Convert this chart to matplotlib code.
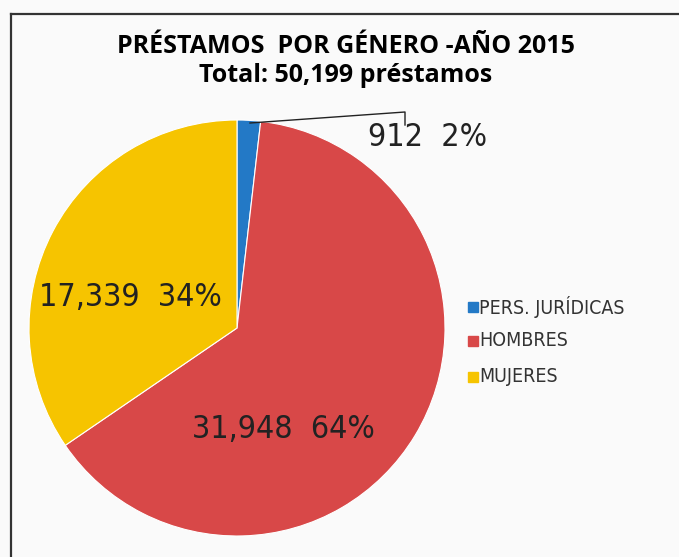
import matplotlib
matplotlib.use('Agg')
import matplotlib.pyplot as plt

####################################################################################################

categories = ['PERS. JURÍDICAS', 'HOMBRES', 'MUJERES']
loans = [912, 31948, 17339]
percent_labels = ['2%', '64%', '34%']
colors = ['#2379c6', '#d84848', '#f6c400']

title = 'PRÉSTAMOS  POR GÉNERO -AÑO 2015\nTotal: 50,199 préstamos'

####################################################################################################

W, H = 679, 557
fig = plt.figure(figsize=(W / 100, H / 100), dpi=100)
fig.patch.set_facecolor('#fafafa')

# frame (left and top edges show)
fig.add_artist(plt.Line2D([11 / W, 11 / W], [0, 1 - 14 / H], color='#333333', lw=1.6))
fig.add_artist(plt.Line2D([11 / W, 1], [1 - 14 / H, 1 - 14 / H], color='#333333', lw=1.6))

fig.text(346 / W, 1 - 61 / H, title, ha='center', va='center', fontsize=18,
         fontweight='bold', family=['Open Sans', 'DejaVu Sans'], linespacing=1.2)

# pie, circle centre (237, 328) radius 208 px
cx, cy, r = 237, 328, 208
ax = fig.add_axes([(cx - r) / W, 1 - (cy + r) / H, 2 * r / W, 2 * r / H])
ax.set_facecolor('none')
wedges, _ = ax.pie(loans, colors=colors, startangle=90, counterclock=False,
                   radius=1, wedgeprops=dict(edgecolor='white', linewidth=0.8))
ax.set_xlim(-1, 1)
ax.set_ylim(-1, 1)
ax.set_aspect('auto')
ax.axis('off')

lab_font = dict(family='DejaVu Sans', stretch='condensed', fontweight='light',
                fontsize=23, color='#222222')

def to_ax(px, py):
    return ((px - cx) / r, (cy - py) / r)

# small slice label with leader line
pts = [to_ax(250, 123), to_ax(405, 112), to_ax(405, 125)]
ax.plot([p[0] for p in pts], [p[1] for p in pts], color='#222222', lw=1, clip_on=False)
ax.text(*to_ax(428, 137), '{:,}  {}'.format(loans[0], percent_labels[0]), ha='center', va='center', **lab_font)
ax.text(*to_ax(130, 297), '{:,}  {}'.format(loans[2], percent_labels[2]), ha='center', va='center', **lab_font)
ax.text(*to_ax(283, 430), '{:,}  {}'.format(loans[1], percent_labels[1]), ha='center', va='center', **lab_font)

# legend
for i, (name, c) in enumerate(zip(categories, colors)):
    y = [307, 341, 377][i]
    fig.patches.append(plt.Rectangle((468 / W, 1 - (y + 5) / H), 10 / W, 10 / H,
                                     transform=fig.transFigure, color=c, figure=fig))
    fig.text(479 / W, 1 - y / H, name, ha='left', va='center', fontsize=14, color='#333333',
             family='DejaVu Sans', stretch='condensed')

fig.savefig('out.png', dpi=100, facecolor=fig.get_facecolor())
